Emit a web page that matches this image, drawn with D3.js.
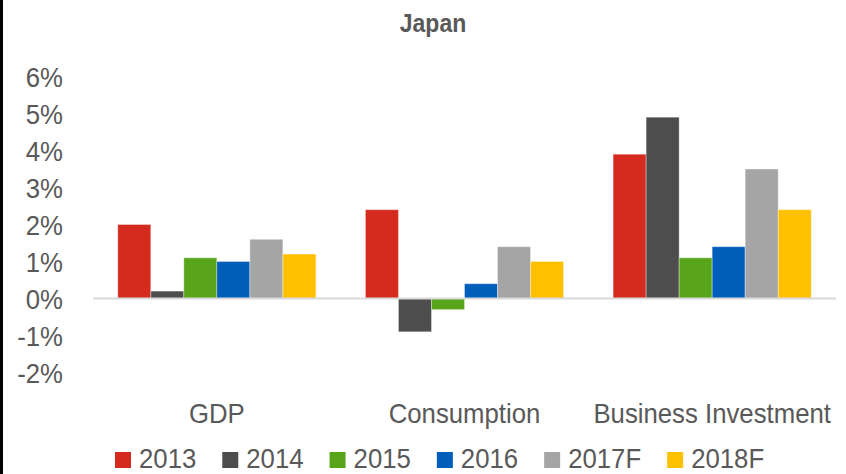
<!DOCTYPE html>
<html>
<head>
<meta charset="utf-8">
<script src="https://cdn.jsdelivr.net/npm/d3@7"></script>
<style>
  html, body { margin: 0; padding: 0; background: #fff; }
  svg { display: block; }
  text { font-family: "Liberation Sans", Arial, sans-serif; fill: #595959; }
</style>
</head>
<body>
<div id="chart"></div>
<script>
const title = "Japan";
const categories = ["GDP", "Consumption", "Business Investment"];
const seriesNames = ["2013", "2014", "2015", "2016", "2017F", "2018F"];
const seriesColors = ["#d52b1e", "#4d4d4d", "#58a51b", "#005ebb", "#a5a5a5", "#ffc000"];
const values2013 = [2.0, 2.4, 3.9];
const values2014 = [0.2, -0.9, 4.9];
const values2015 = [1.1, -0.3, 1.1];
const values2016 = [1.0, 0.4, 1.4];
const values2017F = [1.6, 1.4, 3.5];
const values2018F = [1.2, 1.0, 2.4];
const yTicks = [-2, -1, 0, 1, 2, 3, 4, 5, 6];

const seriesValues = [values2013, values2014, values2015, values2016, values2017F, values2018F];

const W = 846, H = 474;
const sx = 0.92;

const svg = d3.select("#chart").append("svg").attr("width", W).attr("height", H);

// left black edge
svg.append("rect").attr("x", 0).attr("y", 0).attr("width", 3).attr("height", H).attr("fill", "#000");

const x0 = d3.scaleBand().domain(categories).range([93, 836]).paddingInner(0.2).paddingOuter(0.1);
const x1 = d3.scaleBand().domain(seriesNames).range([0, x0.bandwidth()]);
const y = d3.scaleLinear().domain([-2, 6]).range([372.5, 76.5]);

function sText(sel, x, yy, txt, opts) {
  const g = sel.append("g").attr("transform", `translate(${x},${yy}) scale(${sx},1)`);
  const t = g.append("text").text(txt)
    .attr("font-size", opts.size)
    .attr("text-anchor", opts.anchor || "start")
    .attr("font-weight", opts.weight || "normal");
  return t;
}

// title
sText(svg, 433, 32, title, {size: 25, anchor: "middle", weight: "bold"});

// y tick labels (hyphen-minus as in the reference)
const fmt = v => (v < 0 ? "-" : "") + Math.abs(v) + "%";
yTicks.forEach(v => {
  sText(svg, 63, y(v) + 10, fmt(v), {size: 28, anchor: "end"});
});

// bars
categories.forEach((c, ci) => {
  seriesNames.forEach((s, si) => {
    const v = seriesValues[si][ci];
    svg.append("rect")
      .attr("x", x0(c) + x1(s))
      .attr("width", x1.bandwidth())
      .attr("y", y(Math.max(0, v)))
      .attr("height", Math.abs(y(v) - y(0)))
      .attr("fill", seriesColors[si])
      .attr("stroke", "rgba(255,255,255,0.35)")
      .attr("stroke-width", 1);
  });
});

// zero line
svg.append("line")
  .attr("x1", 93).attr("x2", 836)
  .attr("y1", y(0)).attr("y2", y(0))
  .attr("stroke", "#d9d9d9").attr("stroke-width", 2);

// category labels
categories.forEach(c => {
  sText(svg, x0(c) + x0.bandwidth() / 2, 423, c, {size: 28, anchor: "middle"});
});

// legend
let lx = 115;
seriesNames.forEach((s, si) => {
  svg.append("rect").attr("x", lx).attr("y", 452).attr("width", 16).attr("height", 16).attr("fill", seriesColors[si]);
  const t = sText(svg, lx + 24, 468, s, {size: 28});
  const w = t.node().getComputedTextLength() * sx;
  lx += 24 + w + 26;
});
</script>
</body>
</html>
